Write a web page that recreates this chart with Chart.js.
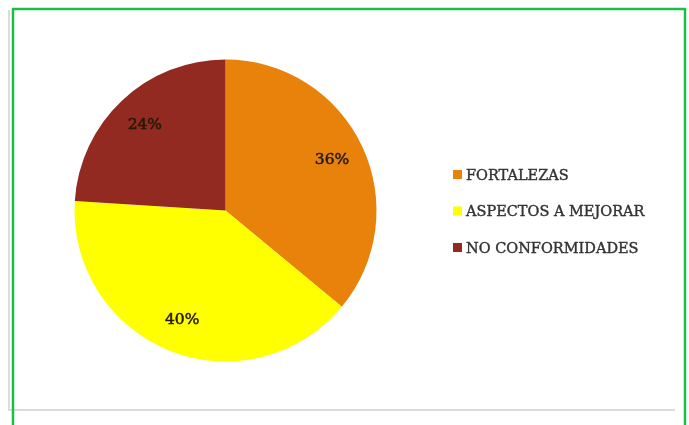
<!DOCTYPE html>
<html>
<head>
<meta charset="utf-8">
<script src="https://cdn.jsdelivr.net/npm/chart.js@4/dist/chart.umd.min.js"></script>
<style>
  html, body { margin: 0; padding: 0; background: #ffffff; }
  #wrap { position: relative; width: 689px; height: 425px; overflow: hidden; background: #fff; }
  canvas { position: absolute; left: 0; top: 0; }
</style>
</head>
<body>
<div id="wrap"><canvas id="c" width="689" height="425"></canvas></div>
<script>
const categories = ["FORTALEZAS", "ASPECTOS A MEJORAR", "NO CONFORMIDADES"];
const values = [36, 40, 24];
const colors = ["#E8820A", "#FFFF00", "#932A22"];

const framePlugin = {
  id: 'frame',
  beforeDraw(chart) {
    const ctx = chart.ctx;
    ctx.save();
    ctx.fillStyle = '#ffffff';
    ctx.fillRect(0, 0, chart.width, chart.height);
    ctx.strokeStyle = '#dcdcdc';
    ctx.lineWidth = 2;
    ctx.beginPath();
    ctx.moveTo(9, 10);
    ctx.lineTo(9, 410);
    ctx.lineTo(675, 410);
    ctx.stroke();
    ctx.strokeStyle = '#1DBE45';
    ctx.lineWidth = 2.5;
    ctx.beginPath();
    ctx.moveTo(13, 425);
    ctx.lineTo(13, 9);
    ctx.lineTo(685, 9);
    ctx.lineTo(685, 425);
    ctx.stroke();
    ctx.restore();
  },
  afterDatasetsDraw(chart) {
    const ctx = chart.ctx;
    const meta = chart.getDatasetMeta(0);
    const data = chart.data.datasets[0].data;
    const total = data.reduce((a, b) => a + b, 0);
    ctx.save();
    ctx.font = '15.5px "DejaVu Serif"';
    ctx.fillStyle = '#241a08';
    ctx.strokeStyle = '#241a08';
    ctx.lineWidth = 0.5;
    ctx.textAlign = 'center';
    ctx.textBaseline = 'middle';
    meta.data.forEach((arc, i) => {
      const p = arc.getProps(['x', 'y', 'startAngle', 'endAngle', 'outerRadius'], true);
      const mid = (p.startAngle + p.endAngle) / 2;
      const r = p.outerRadius * 0.78;
      const pct = Math.round(data[i] / total * 100) + '%';
      const tx = p.x + Math.cos(mid) * r, ty = p.y + Math.sin(mid) * r;
      ctx.fillText(pct, tx, ty);
      ctx.strokeText(pct, tx, ty);
    });
    ctx.font = '14.5px "DejaVu Serif"';
    ctx.textAlign = 'left';
    ctx.textBaseline = 'middle';
    ctx.lineWidth = 0.4;
    const lx = 453, ly0 = 176, gap = 36.5;
    chart.data.labels.forEach((lab, i) => {
      const y = ly0 + i * gap;
      ctx.fillStyle = chart.data.datasets[0].backgroundColor[i];
      ctx.fillRect(lx, y - 6, 9, 9);
      ctx.fillStyle = '#333333';
      ctx.strokeStyle = '#333333';
      ctx.fillText(lab, lx + 13, y);
      ctx.strokeText(lab, lx + 13, y);
    });
    ctx.restore();
  }
};

new Chart(document.getElementById('c'), {
  type: 'pie',
  data: {
    labels: categories,
    datasets: [{
      data: values,
      backgroundColor: colors,
      borderWidth: 0
    }]
  },
  options: {
    responsive: false,
    animation: false,
    layout: { padding: { left: 74.5, right: 312.5, top: 59.5, bottom: 63.5 } },
    plugins: {
      legend: { display: false },
      tooltip: { enabled: false }
    }
  },
  plugins: [framePlugin]
});
</script>
</body>
</html>
